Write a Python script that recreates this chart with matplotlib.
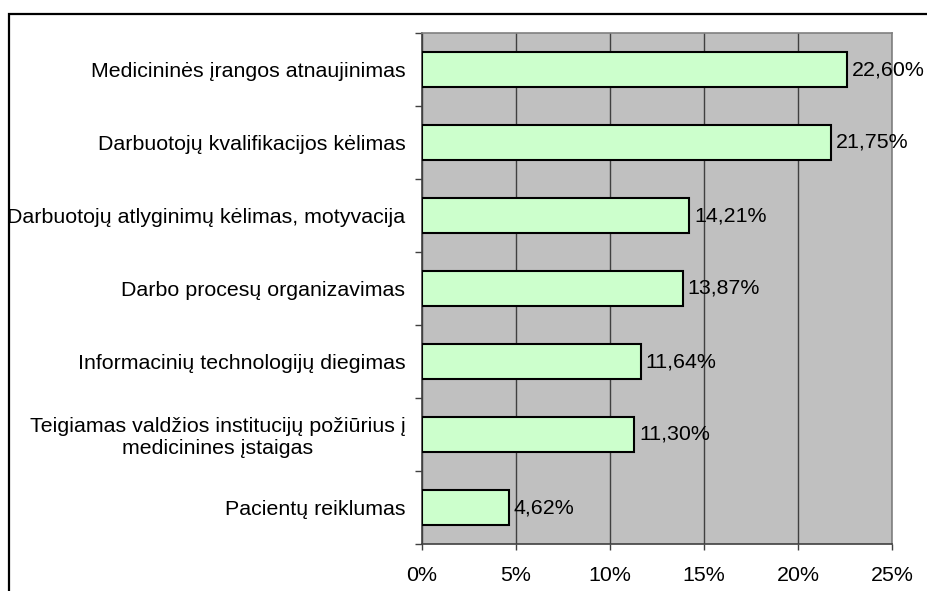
import matplotlib.pyplot as plt
from matplotlib.patches import Rectangle

plt.rcParams['font.family'] = ['Liberation Sans', 'DejaVu Sans']

# Data (top to bottom)
categories = ['Medicininės įrangos atnaujinimas',
              'Darbuotojų kvalifikacijos kėlimas',
              'Darbuotojų atlyginimų kėlimas, motyvacija',
              'Darbo procesų organizavimas',
              'Informacinių technologijų diegimas',
              'Teigiamas valdžios institucijų požiūrius į\nmedicinines įstaigas',
              'Pacientų reiklumas']
values = [22.60, 21.75, 14.21, 13.87, 11.64, 11.30, 4.62]
x_ticks = [0, 5, 10, 15, 20, 25]

fs = 15.4

fig = plt.figure(figsize=(9.28, 5.91), dpi=100)
ax = fig.add_axes([422 / 928, 1 - 544 / 591, 470 / 928, 511 / 591])
ax.set_facecolor('#C0C0C0')

pos = list(range(len(categories)))
ax.barh(pos, values, height=0.47, color='#CCFFCC', edgecolor='black',
        linewidth=1.5, zorder=3)

for y, v in zip(pos, values):
    ax.annotate(f'{v:.2f}%'.replace('.', ','), (v, y), xytext=(3.5, 0),
                textcoords='offset points', va='center', ha='left',
                fontsize=fs, zorder=4, annotation_clip=False)

ax.set_xlim(0, 25)
ax.set_ylim(len(categories) - 0.5, -0.5)
ax.set_xticks(x_ticks)
ax.set_xticklabels([f'{t}%' for t in x_ticks], fontsize=fs)
ax.xaxis.grid(True, color='#404040', linewidth=1.0, zorder=1)
ax.set_axisbelow(True)

ax.set_yticks(pos)
ax.set_yticklabels(categories, fontsize=fs)
for lbl in ax.get_yticklabels():
    lbl.set_multialignment('center')
ax.set_yticks([p - 0.5 for p in pos] + [len(pos) - 0.5], minor=True)
ax.tick_params(axis='y', which='major', length=0, pad=12)
ax.tick_params(axis='y', which='minor', length=5, width=1, color='#404040')
ax.tick_params(axis='x', length=4, width=1, color='#404040', pad=12)

for side in ['left', 'bottom']:
    ax.spines[side].set_color('#404040')
    ax.spines[side].set_linewidth(1.2)
for side in ['top', 'right']:
    ax.spines[side].set_color('#808080')
    ax.spines[side].set_linewidth(1.2)

# outer chart border (extends beyond the image on right/bottom)
fig.patches.append(Rectangle((9 / 928, -0.1), 1.1, 1 - 14 / 591 + 0.1,
                             transform=fig.transFigure, fill=False,
                             edgecolor='black', linewidth=1.6))

fig.savefig('out.png', dpi=100)
